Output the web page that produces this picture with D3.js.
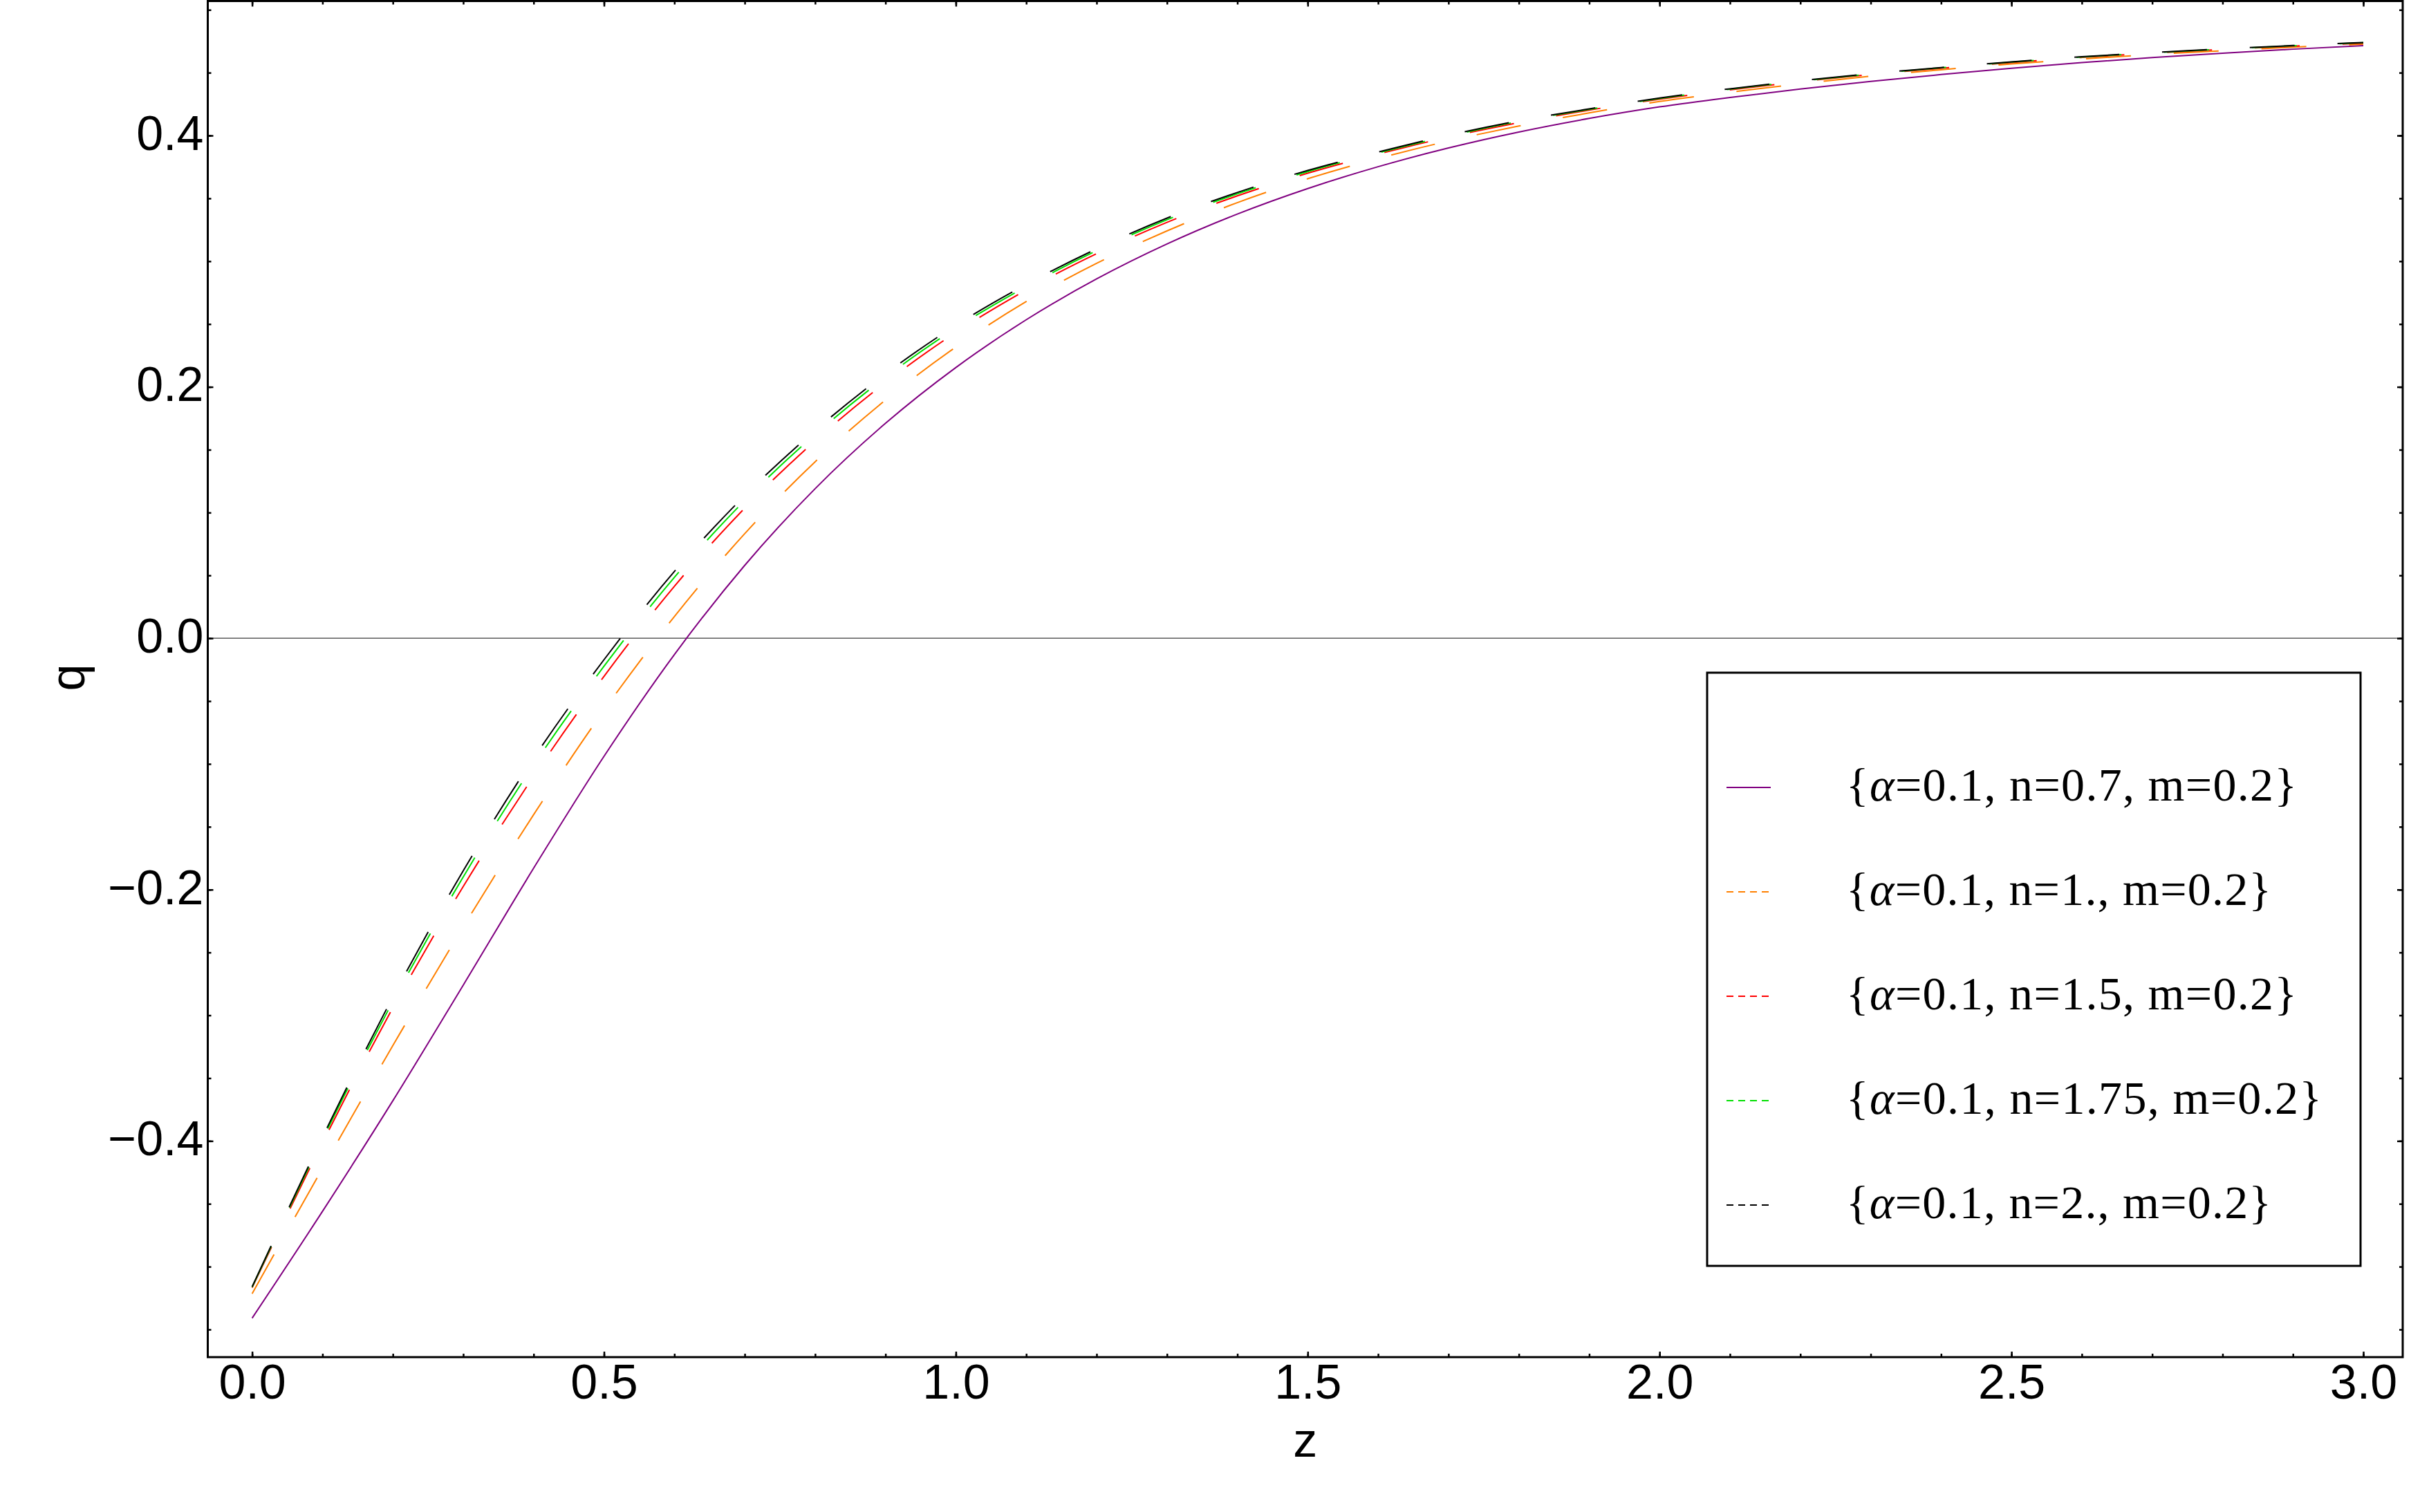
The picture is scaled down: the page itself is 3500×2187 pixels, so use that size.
<!DOCTYPE html>
<html>
<head>
<meta charset="utf-8">
<script src="https://cdn.jsdelivr.net/npm/d3@7"></script>
<style>
  html, body { margin: 0; padding: 0; background: #ffffff; }
  svg { display: block; }
</style>
</head>
<body>
<svg id="chart" width="3500" height="2187"></svg>
<script>
// ---------------- DATA ----------------
const zValues = [0,0.1,0.2,0.3,0.4,0.5,0.6,0.7,0.8,0.9,1.0,1.1,1.2,1.3,1.4,1.5,1.6,1.7,1.8,1.9,2.0,2.1,2.2,2.3,2.4,2.5,2.6,2.7,2.8,2.9,3.0];

const qN07  = [-0.541,-0.456,-0.368,-0.276,-0.183,-0.094,-0.013,0.058,0.119,0.171,0.2154,0.2534,0.2859,0.3137,0.3375,0.3578,0.3752,0.3901,0.4028,0.4136,0.4228,0.4303,0.4370,0.4430,0.4485,0.4535,0.4580,0.4620,0.4655,0.4687,0.4715];
const qN10  = [-0.5215,-0.4218,-0.3241,-0.2297,-0.1404,-0.0573,0.0172,0.0832,0.1404,0.1895,0.2317,0.2679,0.2983,0.3241,0.3466,0.3656,0.3817,0.3956,0.4076,0.4180,0.4271,0.4344,0.4411,0.4472,0.4523,0.4569,0.4608,0.4645,0.4674,0.4703,0.4727];
const qN15  = [-0.5168,-0.4015,-0.294,-0.1975,-0.1099,-0.0304,0.0413,0.1035,0.1571,0.2034,0.2433,0.2771,0.306,0.3309,0.352,0.37,0.3852,0.3987,0.4103,0.4202,0.4289,0.4363,0.4428,0.4485,0.4535,0.4580,0.4621,0.4655,0.4685,0.4711,0.4735];
const qN175 = [-0.5163,-0.3987,-0.289,-0.1899,-0.1009,-0.0223,0.0484,0.1096,0.1621,0.2076,0.2468,0.2798,0.3083,0.333,0.3536,0.3713,0.3862,0.3996,0.4112,0.4208,0.4294,0.4369,0.4433,0.4489,0.4539,0.4584,0.4625,0.4658,0.4688,0.4714,0.4738];
const qN20  = [-0.516,-0.397,-0.2855,-0.185,-0.0955,-0.0171,0.0531,0.1135,0.1653,0.2103,0.249,0.2816,0.3098,0.3343,0.3547,0.3722,0.3869,0.4002,0.4117,0.4212,0.4298,0.4372,0.4436,0.4492,0.4541,0.4586,0.4627,0.4660,0.4690,0.4716,0.4740];

const seriesLabels = [
  ["{", "α", "=0.1, n=0.7, m=0.2}"],
  ["{", "α", "=0.1, n=1., m=0.2}"],
  ["{", "α", "=0.1, n=1.5, m=0.2}"],
  ["{", "α", "=0.1, n=1.75, m=0.2}"],
  ["{", "α", "=0.1, n=2., m=0.2}"]
];
const seriesColors = ["#800080", "#ff8000", "#ff0000", "#00e000", "#000000"];
const seriesDashed = [false, true, true, true, true];
const seriesValues = [qN07, qN10, qN15, qN175, qN20];

const xTicks = [0, 0.5, 1.0, 1.5, 2.0, 2.5, 3.0];
const yTicks = [-0.4, -0.2, 0.0, 0.2, 0.4];
const xLabel = "z";
const yLabel = "q";

// ---------------- LAYOUT ----------------
const W = 3500, H = 2187;
const frameL = 300.5, frameR = 3475, frameT = 1.5, frameB = 1963;
const svg = d3.select("#chart");
svg.append("rect").attr("width", W).attr("height", H).attr("fill", "#fff");

const x = d3.scaleLinear().domain([-0.063, 3.056]).range([frameL, frameR]);
const y = d3.scaleLinear().domain([-0.572, 0.507]).range([frameB, frameT]);

const fmt = d3.format(".1f");
const tickFont = "'Liberation Sans', Arial, Helvetica, sans-serif";

// zero axis line
svg.append("line")
  .attr("x1", frameL).attr("x2", frameR)
  .attr("y1", y(0)).attr("y2", y(0))
  .attr("stroke", "#3a3a3a").attr("stroke-width", 1.4);

// curves
const line = d3.line()
  .x((d, i) => x(zValues[i]))
  .y(d => y(d))
  .curve(d3.curveMonotoneX);

const curveG = svg.append("g");
seriesValues.forEach((vals, k) => {
  curveG.append("path")
    .attr("d", line(vals))
    .attr("fill", "none")
    .attr("stroke", seriesColors[k])
    .attr("stroke-width", 2)
    .attr("stroke-dasharray", seriesDashed[k] ? "65 62" : null);
});

// axes (ticks inward)
function styleAxis(g) {
  g.select(".domain").remove();
  g.selectAll(".tick line").attr("stroke", "#000").attr("stroke-width", 2.5);
  g.selectAll("text").attr("font-family", tickFont).attr("font-size", 70).attr("fill", "#000");
}
const xMinor = d3.range(0, 31).map(i => i / 10);
const yMinor = d3.range(-11, 11).map(i => i * 0.05);

// bottom
svg.append("g").attr("transform", `translate(0,${frameB})`)
  .call(d3.axisBottom(x).tickValues(xMinor).tickSize(-5).tickFormat(""))
  .call(styleAxis);
svg.append("g").attr("transform", `translate(0,${frameB})`)
  .call(d3.axisBottom(x).tickValues(xTicks).tickSize(-8).tickPadding(10).tickFormat(fmt))
  .call(styleAxis);
// top
svg.append("g").attr("transform", `translate(0,${frameT})`)
  .call(d3.axisTop(x).tickValues(xMinor).tickSize(-5).tickFormat(""))
  .call(styleAxis);
svg.append("g").attr("transform", `translate(0,${frameT})`)
  .call(d3.axisTop(x).tickValues(xTicks).tickSize(-8).tickFormat(""))
  .call(styleAxis);
// left
svg.append("g").attr("transform", `translate(${frameL},0)`)
  .call(d3.axisLeft(y).tickValues(yMinor).tickSize(-5).tickFormat(""))
  .call(styleAxis);
svg.append("g").attr("transform", `translate(${frameL},0)`)
  .call(d3.axisLeft(y).tickValues(yTicks).tickSize(-8).tickPadding(6).tickFormat(fmt))
  .call(styleAxis)
  .selectAll("text").attr("dy", "0.29em");
// right
svg.append("g").attr("transform", `translate(${frameR},0)`)
  .call(d3.axisRight(y).tickValues(yMinor).tickSize(-5).tickFormat(""))
  .call(styleAxis);
svg.append("g").attr("transform", `translate(${frameR},0)`)
  .call(d3.axisRight(y).tickValues(yTicks).tickSize(-8).tickFormat(""))
  .call(styleAxis);

// frame
svg.append("rect")
  .attr("x", frameL).attr("y", frameT)
  .attr("width", frameR - frameL).attr("height", frameB - frameT)
  .attr("fill", "none").attr("stroke", "#000").attr("stroke-width", 3);

// axis labels
svg.append("text")
  .attr("x", (frameL + frameR) / 2).attr("y", 2107)
  .attr("text-anchor", "middle")
  .attr("font-family", tickFont).attr("font-size", 70)
  .text(xLabel);
svg.append("text")
  .attr("transform", `translate(122,980) rotate(-90)`)
  .attr("text-anchor", "middle")
  .attr("font-family", tickFont).attr("font-size", 70)
  .text(yLabel);

// legend
const legL = 2469, legT = 973, legR = 3414, legB = 1831;
const legRow0 = 166, legStep = 151;
const textWidths = [652, 615, 652, 688, 615];
const leg = svg.append("g");
leg.append("rect")
  .attr("x", legL).attr("y", legT)
  .attr("width", legR - legL).attr("height", legB - legT)
  .attr("fill", "#fff").attr("stroke", "#000").attr("stroke-width", 3);
seriesLabels.forEach((parts, k) => {
  const ry = legT + legRow0 + k * legStep;
  leg.append("line")
    .attr("x1", legL + 28).attr("x2", legL + 92)
    .attr("y1", ry).attr("y2", ry)
    .attr("stroke", seriesColors[k]).attr("stroke-width", 2)
    .attr("stroke-dasharray", seriesDashed[k] ? "10 7" : null);
  const t = leg.append("text")
    .attr("x", legL + 201).attr("y", ry + 19)
    .attr("font-family", "'Liberation Serif', 'Times New Roman', serif")
    .attr("font-size", 68)
    .attr("textLength", textWidths[k])
    .attr("lengthAdjust", "spacing");
  t.append("tspan").text(parts[0]);
  t.append("tspan").attr("font-style", "italic").text(parts[1]);
  t.append("tspan").text(parts[2]);
});
</script>
</body>
</html>
